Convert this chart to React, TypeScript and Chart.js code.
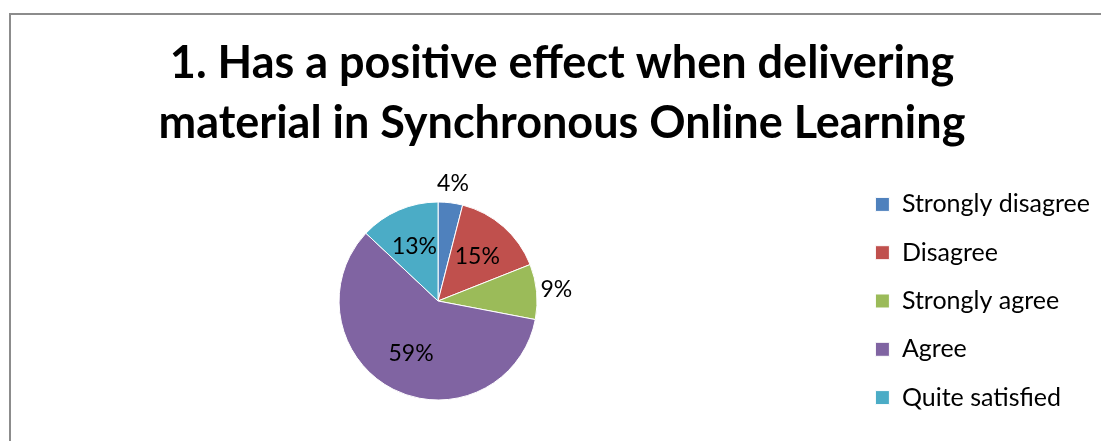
import React, { useEffect, useRef } from "react";
import { Chart, registerables } from "chart.js";

Chart.register(...registerables);

const titleLines = [
  "1. Has a positive effect when delivering",
  "material in Synchronous Online Learning",
];
const categories = [
  "Strongly disagree",
  "Disagree",
  "Strongly agree",
  "Agree",
  "Quite satisfied",
];
const percentages = [4, 15, 9, 59, 13];
const sliceColors = ["#4F81BD", "#C0504D", "#9BBB59", "#8064A2", "#4BACC6"];

const FONT = "Lato, 'Open Sans', sans-serif";

// Percent labels: small slices get their label outside the rim, larger ones inside.
const sliceLabels = {
  id: "sliceLabels",
  afterDatasetsDraw(chart: any) {
    const { ctx } = chart;
    const meta = chart.getDatasetMeta(0);
    const values = chart.data.datasets[0].data as number[];
    ctx.save();
    ctx.font = `23px ${FONT}`;
    ctx.fillStyle = "#000";
    ctx.textAlign = "center";
    ctx.textBaseline = "middle";
    meta.data.forEach((arc: any, i: number) => {
      const { x, y, startAngle, endAngle, outerRadius } = arc.getProps(
        ["x", "y", "startAngle", "endAngle", "outerRadius"],
        true
      );
      const mid = (startAngle + endAngle) / 2;
      const r = values[i] < 10 ? outerRadius * 1.2 : outerRadius * 0.6;
      ctx.fillText(`${values[i]}%`, x + Math.cos(mid) * r, y + Math.sin(mid) * r);
    });
    ctx.restore();
  },
};

export default function App() {
  const canvasRef = useRef<HTMLCanvasElement | null>(null);

  useEffect(() => {
    if (!canvasRef.current) return;
    const chart = new Chart(canvasRef.current, {
      type: "pie",
      data: {
        labels: categories,
        datasets: [
          {
            data: percentages,
            backgroundColor: sliceColors,
            borderColor: "#ffffff",
            borderWidth: 1,
            radius: 99,
          },
        ],
      },
      options: {
        responsive: false,
        animation: false,
        layout: { padding: { left: 24, right: 1, top: 0, bottom: 0 } },
        plugins: {
          title: {
            display: true,
            text: titleLines,
            color: "#000",
            font: { family: FONT, size: 45, weight: "bold", lineHeight: 1.3333 },
            padding: { top: 33, bottom: 8 },
          },
          legend: {
            position: "right",
            fullSize: false,
            labels: {
              color: "#000",
              font: { family: FONT, size: 25 },
              boxWidth: 14,
              boxHeight: 14,
              padding: 23.3,
            },
          },
          tooltip: { enabled: false },
        },
      },
      plugins: [sliceLabels],
    });
    return () => chart.destroy();
  }, []);

  return (
    <div
      style={{
        position: "absolute",
        left: 0,
        top: 0,
        width: 1101,
        height: 441,
        overflow: "hidden",
        background: "#fff",
      }}
    >
      <div
        style={{
          position: "absolute",
          left: 9,
          top: 13,
          width: 1200,
          height: 500,
          borderLeft: "2px solid #8c8c8c",
          borderTop: "2px solid #8c8c8c",
        }}
      />
      <canvas
        ref={canvasRef}
        width={1101}
        height={441}
        style={{ position: "absolute", left: 0, top: 0 }}
      />
    </div>
  );
}
